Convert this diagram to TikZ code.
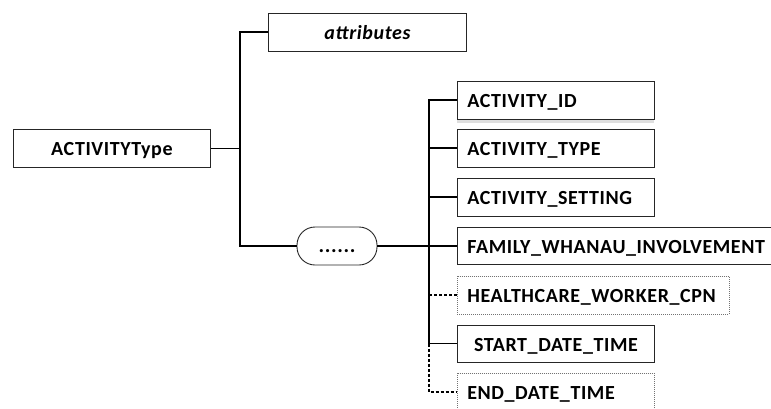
\documentclass[tikz,border=0pt]{standalone}
\usepackage{fontspec}
\setmainfont{Carlito}[LetterSpace=3.0]
\usetikzlibrary{shadows}
\tikzset{
  elem/.style={draw=black!85, line width=0.9pt, fill=white, font=\fontsize{20}{23}\selectfont\bfseries,
    minimum height=38pt, text height=15pt, text depth=0pt, inner xsep=10pt, inner ysep=0pt,
    anchor=west, align=left},
  optbox/.style={draw=black!55, line width=0.7pt, dash pattern=on 1pt off 1pt},
  conn/.style={line width=1.4pt, black},
  optconn/.style={line width=1.4pt, black, dash pattern=on 3pt off 2pt},
}
\begin{document}
\begin{tikzpicture}[x=1pt, y=-1pt]
\path[use as bounding box] (0,0) rectangle (771,408);
\clip (0,0) rectangle (771,408);

% left part
\node[elem, align=center, text width=177pt, text height=14pt] (type) at (13,148.5) {ACTIVITYType};
\node[elem, align=center, text width=178pt, text height=14pt, font=\fontsize{20}{23}\selectfont\bfseries\itshape] (attr) at (268,32) {attributes};
\node[draw=black!85, line width=0.9pt, rounded corners=18pt, minimum width=80pt, minimum height=38pt,
      inner sep=0pt, font=\fontsize{21}{23}\selectfont\bfseries, text height=12pt, text depth=0pt] (seq) at (337,246) {......};

\coordinate (tl) at (240,0);
\coordinate (tr) at (429,0);

% right part
\node[elem, text width=177pt, drop shadow={opacity=0.25, shadow xshift=0pt, shadow yshift=-4pt}] (id) at (457,100) {ACTIVITY\_ID};
\node[elem, text width=177pt] (atype) at (457,148) {ACTIVITY\_TYPE};
\node[elem, text width=177pt] (setting) at (457,197) {ACTIVITY\_SETTING};
\node[elem, text width=330pt, minimum height=37pt] (family) at (457,245.5) {FAMILY\_WHANAU\_INVOLVEMENT};
\node[elem, optbox, text width=252pt] (health) at (457,295) {HEALTHCARE\_WORKER\_CPN};
\node[elem, text width=177pt, align=center, minimum height=37pt] (start) at (457,343.5) {START\_DATE\_TIME};
\node[elem, optbox, text width=177pt] (end) at (457,392) {END\_DATE\_TIME};

% connectors left
\draw[conn] (type.east) -- (type.east -| tl);
\draw[conn] (attr.west) -| (tl |- seq.west) -- (seq.west);

% connectors right
\draw[conn] (seq.east) -- (seq.east -| family.west);
\draw[conn] (id.west) -| (tr |- start.west) -- (start.west);
\draw[conn] (atype.west) -- (atype.west -| tr);
\draw[conn] (setting.west) -- (setting.west -| tr);
\draw[optconn] (health.west) -- (health.west -| tr);
\draw[optconn] (tr |- start.west) -- (tr |- end.west) -- (end.west);
\end{tikzpicture}
\end{document}
